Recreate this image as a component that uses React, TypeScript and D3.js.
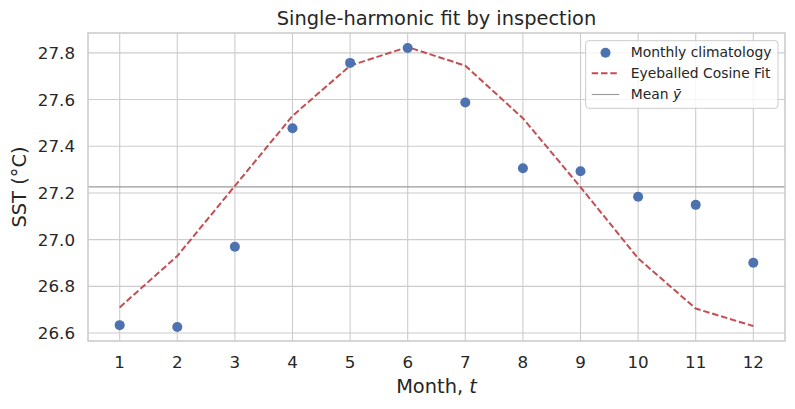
import * as d3 from "d3";
import { useEffect, useRef } from "react";

// monthly climatology and the hand-drawn cosine fit
const months = [1, 2, 3, 4, 5, 6, 7, 8, 9, 10, 11, 12];
const sstObs = [26.634, 26.626, 26.97, 27.477, 27.757, 27.821, 27.587, 27.306, 27.293, 27.184, 27.149, 26.901];
const sstFit = [26.71, 26.93, 27.23, 27.53, 27.745, 27.825, 27.745, 27.52, 27.225, 26.92, 26.705, 26.63];
const meanY = 27.226;
const yTicks = [26.6, 26.8, 27.0, 27.2, 27.4, 27.6, 27.8];

const W = 795;
const H = 409;
const FONT = "DejaVu Sans, sans-serif";
const TXT = "#262626";

const App = () => {
    const ref = useRef<SVGSVGElement>(null);

    useEffect(() => {
        const svg = d3.select(ref.current);
        svg.selectAll("*").remove();

        const left = 88, right = 785, top = 33, bottom = 341;

        const xScale = d3.scaleLinear().domain([0.45, 12.55]).range([left, right]);
        const all = sstObs.concat(sstFit);
        const lo = d3.min(all) as number, hi = d3.max(all) as number;
        const pad = (hi - lo) * 0.05;
        const yScale = d3.scaleLinear().domain([lo - pad, hi + pad]).range([bottom, top]);

        // grid
        const grid = svg.append("g").attr("stroke", "#cccccc").attr("stroke-width", 1.1);
        grid.selectAll(".gx").data(months).join("line")
            .attr("x1", (d) => xScale(d)).attr("x2", (d) => xScale(d))
            .attr("y1", top).attr("y2", bottom);
        grid.selectAll(".gy").data(yTicks).join("line")
            .attr("x1", left).attr("x2", right)
            .attr("y1", (d) => yScale(d)).attr("y2", (d) => yScale(d));

        // mean line
        svg.append("line")
            .attr("x1", left).attr("x2", right)
            .attr("y1", yScale(meanY)).attr("y2", yScale(meanY))
            .attr("stroke", "#999999").attr("stroke-width", 1.1);

        // fit
        const line = d3.line<number>().x((d, i) => xScale(months[i])).y((d) => yScale(d));
        svg.append("path")
            .datum(sstFit)
            .attr("d", line)
            .attr("fill", "none")
            .attr("stroke", "#C44E52")
            .attr("stroke-width", 2)
            .attr("stroke-dasharray", "6.5,2.8");

        // observations
        svg.append("g").selectAll("circle").data(sstObs).join("circle")
            .attr("cx", (d, i) => xScale(months[i]))
            .attr("cy", (d) => yScale(d))
            .attr("r", 5)
            .attr("fill", "#4C72B0");

        // frame
        svg.append("rect")
            .attr("x", left).attr("y", top)
            .attr("width", right - left).attr("height", bottom - top)
            .attr("fill", "none").attr("stroke", "#cccccc").attr("stroke-width", 1.6);

        // tick labels
        svg.append("g").selectAll("text").data(months).join("text")
            .attr("x", (d) => xScale(d)).attr("y", 368)
            .attr("text-anchor", "middle")
            .attr("font-family", FONT).attr("font-size", 16.7).attr("fill", TXT)
            .text((d) => d);
        svg.append("g").selectAll("text").data(yTicks).join("text")
            .attr("x", 75).attr("y", (d) => yScale(d) + 6)
            .attr("text-anchor", "end")
            .attr("font-family", FONT).attr("font-size", 16.7).attr("fill", TXT)
            .text((d) => d.toFixed(1));

        // labels
        svg.append("text")
            .attr("x", (left + right) / 2).attr("y", 24.5)
            .attr("text-anchor", "middle")
            .attr("font-family", FONT).attr("font-size", 19.4).attr("fill", TXT)
            .text("Single-harmonic fit by inspection");

        const xl = svg.append("text")
            .attr("x", (left + right) / 2).attr("y", 393)
            .attr("text-anchor", "middle")
            .attr("font-family", FONT).attr("font-size", 19.4).attr("fill", TXT);
        xl.append("tspan").text("Month, ");
        xl.append("tspan").attr("font-style", "italic").text("t");

        svg.append("text")
            .attr("transform", `translate(26,${(top + bottom) / 2}) rotate(-90)`)
            .attr("text-anchor", "middle")
            .attr("font-family", FONT).attr("font-size", 19.4).attr("fill", TXT)
            .text("SST (°C)");

        // legend
        const lg = svg.append("g");
        lg.append("rect")
            .attr("x", 585.7).attr("y", 40.7)
            .attr("width", 778 - 585.7).attr("height", 108.3 - 40.7)
            .attr("rx", 3)
            .attr("fill", "white").attr("fill-opacity", 0.8)
            .attr("stroke", "#cccccc").attr("stroke-width", 1);
        lg.append("circle").attr("cx", 605.5).attr("cy", 52.7).attr("r", 5).attr("fill", "#4C72B0");
        lg.append("line").attr("x1", 591.7).attr("x2", 619.3).attr("y1", 73.3).attr("y2", 73.3)
            .attr("stroke", "#C44E52").attr("stroke-width", 2).attr("stroke-dasharray", "6.5,2.8");
        lg.append("line").attr("x1", 591.7).attr("x2", 619.3).attr("y1", 94.5).attr("y2", 94.5)
            .attr("stroke", "#999999").attr("stroke-width", 1.1);
        const lt = (y: number) => lg.append("text").attr("x", 630.7).attr("y", y)
            .attr("font-family", FONT).attr("font-size", 13.9).attr("fill", TXT);
        lt(57.2).text("Monthly climatology");
        lt(78.2).text("Eyeballed Cosine Fit");
        const m = lt(99.2);
        m.append("tspan").text("Mean ");
        m.append("tspan").attr("font-style", "italic").text("ȳ");
    }, []);

    return (
        <div style={{ position: "absolute", left: 0, top: 0 }}>
            <svg ref={ref} width={W} height={H} style={{ display: "block", background: "white" }} />
        </div>
    );
};

export default App;
